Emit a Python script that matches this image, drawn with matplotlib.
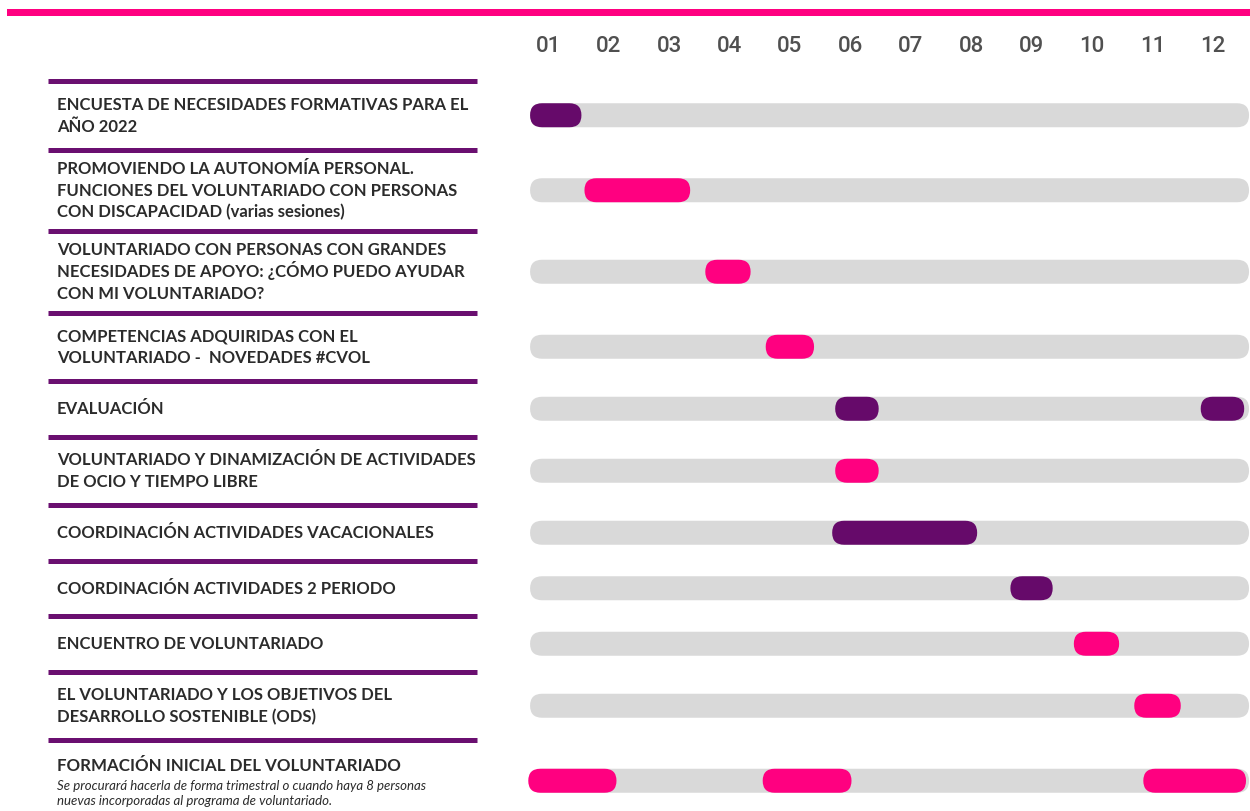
import matplotlib.pyplot as plt
from matplotlib.patches import FancyBboxPatch, Rectangle

# months of the year shown on top
months = ["01", "02", "03", "04", "05", "06", "07", "08", "09", "10", "11", "12"]

# activity labels (one per row)
labels = [
    "ENCUESTA DE NECESIDADES FORMATIVAS PARA EL\nAÑO 2022",
    "PROMOVIENDO LA AUTONOMÍA PERSONAL.\nFUNCIONES DEL VOLUNTARIADO CON PERSONAS\nCON DISCAPACIDAD (varias sesiones)",
    "VOLUNTARIADO CON PERSONAS CON GRANDES\nNECESIDADES DE APOYO: ¿CÓMO PUEDO AYUDAR\nCON MI VOLUNTARIADO?",
    "COMPETENCIAS ADQUIRIDAS CON EL\nVOLUNTARIADO -  NOVEDADES #CVOL",
    "EVALUACIÓN",
    "VOLUNTARIADO Y DINAMIZACIÓN DE ACTIVIDADES\nDE OCIO Y TIEMPO LIBRE",
    "COORDINACIÓN ACTIVIDADES VACACIONALES",
    "COORDINACIÓN ACTIVIDADES 2 PERIODO",
    "ENCUENTRO DE VOLUNTARIADO",
    "EL VOLUNTARIADO Y LOS OBJETIVOS DEL\nDESARROLLO SOSTENIBLE (ODS)",
    "FORMACIÓN INICIAL DEL VOLUNTARIADO",
]
last_note = ("Se procurará hacerla de forma trimestral o cuando haya 8 personas\n"
             "nuevas incorporadas al programa de voluntariado.")

# scheduled periods (in months from start of year)
bar_row = [0, 1, 2, 3, 4, 4, 5, 6, 7, 8, 9, 10, 10, 10]
bar_start = [0.2, 1.1, 3.1, 4.1, 5.25, 11.3, 5.25, 5.2, 8.15, 9.2, 10.2, 0.17, 4.05, 10.35]
bar_end = [1.05, 2.85, 3.85, 4.9, 5.97, 12.02, 5.97, 7.6, 8.85, 9.95, 10.97, 1.63, 5.52, 12.05]
bar_type = ["gestion", "formacion", "formacion", "formacion", "gestion", "gestion",
            "formacion", "gestion", "gestion", "formacion", "formacion",
            "formacion", "formacion", "formacion"]

track_start, track_end = 0.2, 12.1

colors = {"gestion": "#660a6a", "formacion": "#ff0080"}
PINK = "#ff0080"
SEP = "#6a0f70"
GREY = "#d9d9d9"
TXT = "#2b2b2b"

W, H = 1250, 811
fig = plt.figure(figsize=(W / 100, H / 100), dpi=100)
fig.patch.set_facecolor("white")

# timeline axes: x in months, y in pixel-like units from the top
x0_px, x1_px = 518, 1243
ax = fig.add_axes([x0_px / W, 0, (x1_px - x0_px) / W, 1])
ax.set_xlim(0, 12)
ax.set_ylim(H, 0)
ax.axis("off")

axl = fig.add_axes([0, 0, x0_px / W, 1], sharey=ax)
axl.set_xlim(0, x0_px)
axl.axis("off")

# row layout from number of text lines
nlines = [lab.count("\n") + 1 for lab in labels]
nlines[-1] += last_note.count("\n") + 1
tops = []
y = 81
for n in nlines:
    tops.append(y)
    y += 42.5 + 13 * n
bottoms = tops[1:] + [y]
centers = [(a + b) / 2 for a, b in zip(tops, bottoms)]

# top pink stripe
fig.add_artist(Rectangle((7 / W, 1 - 16 / H), 1 - 7 / W, 7 / H,
                         transform=fig.transFigure, color=PINK, lw=0))

# month header
for i, m in enumerate(months):
    ax.text(i + 0.5, 47, m, ha="center", va="center", fontsize=16,
            family="Roboto", fontweight="medium", color="#505050", clip_on=False)

px_per_month = (x1_px - x0_px) / 12
bar_h = 24
r = bar_h / 2 / px_per_month


def pill(x_a, x_b, yc, color):
    p = FancyBboxPatch((x_a, yc - bar_h / 2), x_b - x_a, bar_h,
                       boxstyle=f"round,pad=0,rounding_size={r}",
                       mutation_aspect=px_per_month, fc=color, ec="none",
                       clip_on=False)
    ax.add_patch(p)


for yc in centers:
    pill(track_start, track_end, yc, GREY)

for row, s, e, t in zip(bar_row, bar_start, bar_end, bar_type):
    pill(s, e, centers[row], colors[t])

# labels and separators
line_gap = 22
for i, lab in enumerate(labels):
    axl.plot([48, 477], [tops[i], tops[i]], color=SEP, lw=3.6, solid_capstyle="butt")
    if i < len(labels) - 1:
        parts = lab.split("\n")
        for k, part in enumerate(parts):
            yb = centers[i] + (k - (len(parts) - 1) / 2) * line_gap + 5.5
            axl.text(57, yb, part, ha="left", va="baseline", fontsize=12,
                     family="Lato", fontweight="bold", color=TXT)
    else:
        axl.text(57, centers[i] - 15, lab, ha="left", va="center", fontsize=12.2,
                 family="Lato", fontweight="bold", color=TXT)
        axl.text(57, centers[i] + 13, last_note, ha="left", va="center", fontsize=9.5,
                 family="Lato", style="italic", color=TXT, linespacing=1.3)

fig.savefig("out.png", dpi=100, facecolor="white")
